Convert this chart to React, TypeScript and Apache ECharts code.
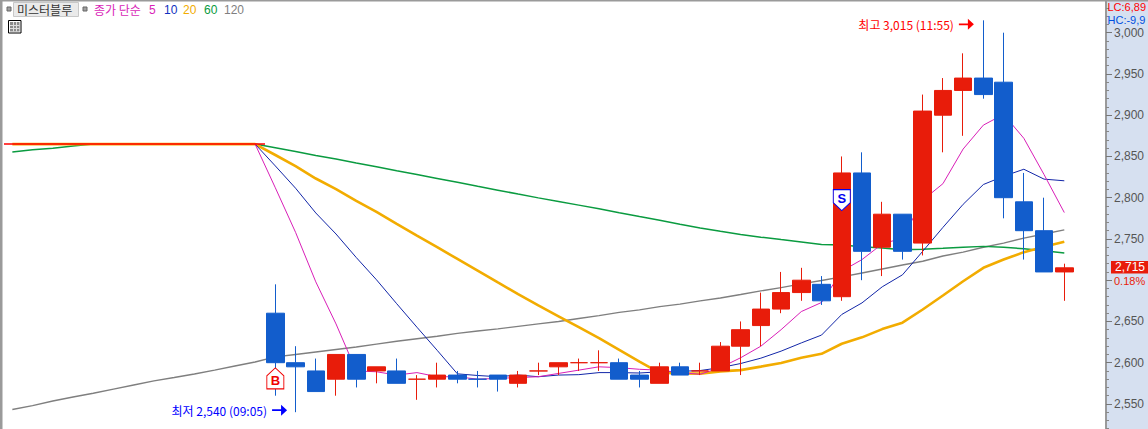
import React, { useEffect, useRef } from "react";
import * as echarts from "echarts";

// leading empty slots before the session's first candle
const preSlots = 14;
const trailingSlots = 2;

const opens = [2660,2600,2590,2580,2610,2590,2590,2580,2580,2585,2580,2585,2575,2590,2595,2600,2600,2600,2585,2575,2595,2590,2590,2620,2645,2665,2685,2695,2680,2830,2740,2780,2745,2900,2930,2945,2940,2795,2760,2710];
const closes = [2600,2595,2565,2610,2580,2595,2575,2580,2585,2580,2580,2580,2585,2590,2600,2600,2600,2580,2580,2595,2585,2590,2620,2640,2665,2685,2700,2675,2830,2735,2780,2735,2905,2930,2945,2925,2800,2760,2710,2715];
const lows = [2560,2540,2565,2560,2570,2575,2575,2555,2570,2575,2570,2565,2570,2585,2585,2590,2590,2580,2570,2575,2585,2585,2590,2585,2620,2660,2675,2670,2675,2700,2705,2725,2730,2855,2875,2920,2775,2725,2710,2675];
const highs = [2695,2620,2605,2610,2610,2595,2605,2585,2600,2590,2590,2585,2590,2600,2600,2605,2615,2605,2590,2600,2600,2600,2625,2650,2685,2710,2715,2705,2850,2855,2795,2780,2925,2945,2975,3015,3000,2830,2800,2720];

const ma5 = [2812,2758,2698,2647,2590,2589,2585,2588,2583,2583,2580,2581,2582,2583,2587,2591,2595,2594,2592,2591,2588,2586,2594,2606,2620,2640,2662,2673,2711,2725,2744,2751,2797,2817,2859,2888,2901,2872,2828,2782];
const ma10 = [2838.5,2811.5,2781.5,2756,2727.5,2700.5,2671.5,2643,2615,2586.5,2584.5,2583,2585,2583,2585,2585.5,2588,2588,2587.5,2589,2589.5,2590.5,2594,2599,2605.5,2614,2624,2633.5,2658.5,2672.5,2692,2706.5,2735,2764,2792,2816,2826,2834.5,2822.5,2820.5];
const ma20 = [2851.75,2838.25,2823.25,2810.5,2796.25,2782.75,2768.25,2754,2740,2725.75,2711.5,2697.25,2683.25,2669.5,2656.25,2643,2629.75,2615.5,2601.25,2587.75,2587,2586.75,2589.5,2591,2595.25,2599.75,2606,2610.75,2623,2630.75,2640.75,2648.5,2664.5,2681.5,2698.75,2715,2725,2734,2740.5,2746.5];
const ma60 = [2860.6,2856.1,2851.1,2846.8,2842.1,2837.6,2832.75,2828,2823.3,2818.6,2813.8,2809.1,2804.4,2799.8,2795.4,2791,2786.6,2781.8,2777.1,2772.6,2767.9,2763.3,2759.25,2755.5,2752.2,2749.2,2746.4,2743.25,2742.7,2740.5,2739.1,2736.9,2737.6,2738.7,2740,2741,2739.9,2738.2,2735.6,2733.1];
const ma120 = [2607,2610,2613,2616,2619,2622.5,2626,2629,2632,2635.5,2638.5,2641,2644,2647,2650,2653.6,2657,2661,2664,2668,2671,2675,2678.5,2682.6,2687,2691,2695.5,2699.6,2704,2708.7,2713.6,2718.4,2723,2729.3,2734,2740,2745,2751,2756,2761];

// values of the averages in the empty slots before the first candle
const prevClose = 2865;
const preMa20 = [null,2865,2865,2865,2865,2865,2865,2865,2865,2865,2865,2865,2865,2865];
const preMa60 = [null,2855.4,2858,2860,2862.6,2865,2865,2865,2865,2865,2865,2865,2865,2865];
const preMa120 = [null,2543.3,2548,2553.6,2558.4,2563,2568,2573,2578,2582,2586.3,2591,2596,2600.8];
const preShort = [null,null,null,null,null,null,null,null,null,null,null,null,null,2865];

const legendLabels = ["종가 단순", "5", "10", "20", "60", "120"];
const titleLabel = "미스터블루";
const lowLabel = "최저 2,540 (09:05)";
const highLabel = "최고 3,015 (11:55)";
const lastPriceLabel = "2,715";
const lastRateLabel = "0.18%";
const lcLabel = "LC:6,89";
const hcLabel = "HC:-9,9";
const hiddenAxisLabels = [2500, 2700, 3050];

const RED = "#E81C0A";
const BLUE = "#125DCC";
const FONT = '"Noto Sans CJK KR", "Noto Sans", sans-serif';
const LATIN = '"Liberation Sans", sans-serif';
const C5 = "#D91FB8";
const C20 = "#F2AC00";
const C10 = "#1226A8";
const C60 = "#0A9B40";
const C120 = "#7F7F7F";

const ARROW = "path://M0 4.6H9V0L15 5.5L9 11V6.4H0Z";
const BUY = "path://M8.5 0L17 8V21H0V8Z";
const SELL = "path://M0 0H17V13L8.5 21L0 13Z";

function txt(x: number, y: number, text: string, fill: string, size = 12, family = FONT) {
  return {
    type: "text", x, y, z: 100,
    style: { text, fill, font: `normal ${size}px ${family}`, textVerticalAlign: "middle", textAlign: "left" },
  };
}

function App() {
  const ref = useRef<HTMLDivElement>(null);
  useEffect(() => {
    const chart = echarts.init(ref.current!, null, { renderer: "svg" });
    const total = preSlots + closes.length + trailingSlots;
    const categories = Array.from({ length: total }, (_, i) => String(i));
    const candles = closes.map((c, i) => {
      const color = c >= opens[i] && !(c === opens[i] && i === 10) ? RED : BLUE;
      return {
        value: [opens[i], c, lows[i], highs[i]],
        itemStyle: { color, color0: color, borderColor: color, borderColor0: color, borderColorDoji: color },
      };
    });
    const line = (name: string, pre: any[], vals: number[], color: string, width: number, extra: any = {}) => ({
      name, type: "line", data: [...pre, ...vals], showSymbol: false, symbol: "none", smooth: false,
      lineStyle: { color, width }, z: 2, silent: true, ...extra,
    });
    const option: any = {
      animation: false,
      backgroundColor: "#fff",
      grid: { left: -18, top: -8.55, width: 56 * 20.23, height: 453.75, containLabel: false, outerBoundsMode: "none" },
      xAxis: { type: "category", data: categories, show: false, boundaryGap: true },
      yAxis: {
        type: "value", position: "right", offset: -8.88, min: 2500, max: 3050, interval: 50, scale: true,
        axisLine: { show: true, onZero: false, lineStyle: { color: "#9A9A9A", width: 2 } },
        axisTick: { show: true, length: 6, lineStyle: { color: "#777" } },
        minorTick: { show: true, splitNumber: 5, length: 3, lineStyle: { color: "#888" } },
        splitLine: { show: false },
        axisLabel: {
          margin: 8, color: "#555", fontSize: 12, fontFamily: LATIN,
          formatter: (v: number) => (hiddenAxisLabels.includes(v) ? "" : v.toLocaleString("en-US")),
        },
      },
      series: [
        line("120", preMa120, ma120, C120, 1.4),
        line("60", preMa60, ma60, C60, 1.5),
        line("20", preMa20, ma20, C20, 2.6, {
          markLine: {
            silent: true, symbol: "none", label: { show: false },
            lineStyle: { color: "#FF0000", width: 1.6, type: "solid" },
            data: [[{ x: 4, yAxis: prevClose }, { x: 265, yAxis: prevClose }]],
          },
        }),
        line("10", preShort, ma10, C10, 1),
        line("5", preShort, ma5, C5, 1),
        {
          name: "candle", type: "candlestick", z: 3, silent: true, barWidth: 18,
          data: [...Array(preSlots).fill("-"), ...candles],
          itemStyle: { borderWidth: 1 },
          markPoint: {
            silent: true, animation: false,
            data: [
              {
                coord: [14, 2581], symbol: BUY, symbolSize: [17, 21],
                itemStyle: { color: "#fff", borderColor: "#F00000", borderWidth: 1 },
                label: { show: true, position: "inside", formatter: "B", color: "#F00000", fontWeight: "bold", fontSize: 13, fontFamily: LATIN, offset: [0, 2] },
              },
              {
                coord: [42, 2797], symbol: SELL, symbolSize: [17, 21],
                itemStyle: { color: "#fff", borderColor: "#0000F0", borderWidth: 1 },
                label: { show: true, position: "inside", formatter: "S", color: "#0000F0", fontWeight: "bold", fontSize: 13, fontFamily: LATIN, offset: [0, -2] },
              },
              {
                coord: [15, 2540], symbol: ARROW, symbolSize: [15, 11], symbolOffset: [-16, -2],
                itemStyle: { color: "#0000FF" },
                label: { show: true, position: "left", distance: 5, formatter: lowLabel, color: "#0000FF", fontSize: 12, fontFamily: FONT },
              },
              {
                coord: [49, 3015], symbol: ARROW, symbolSize: [15, 11], symbolOffset: [-17, 4],
                itemStyle: { color: "#FF0000" },
                label: { show: true, position: "left", distance: 5, formatter: highLabel, color: "#FF0000", fontSize: 12, fontFamily: FONT },
              },
            ],
          },
        },
      ],
      graphic: [
        { type: "rect", z: -10, shape: { x: 1106, y: 0, width: 42, height: 429 }, style: { fill: "#D6E0F0" } },
        { type: "rect", z: 90, shape: { x: 0, y: 0, width: 1148, height: 1.5 }, style: { fill: "#9A9A9A" } },
        { type: "rect", z: 90, shape: { x: 0, y: 0, width: 2.5, height: 429 }, style: { fill: "#9A9A9A" } },
        // legend
        { type: "rect", z: 95, shape: { x: 7, y: 7, width: 4, height: 4 }, style: { fill: "#A0A0A0", stroke: "#666", lineWidth: 1 } },
        { type: "rect", z: 95, shape: { x: 13.5, y: 2.5, width: 65, height: 14 }, style: { fill: "#EAEAEA", stroke: "#C8C8C8", lineWidth: 1 } },
        { type: "rect", z: 95, shape: { x: 83, y: 7, width: 4, height: 4 }, style: { fill: "#A0A0A0", stroke: "#666", lineWidth: 1 } },
        txt(17, 9.5, titleLabel, "#333"),
        txt(94, 9.5, legendLabels[0], C5),
        txt(149, 9.5, legendLabels[1], C5, 12, LATIN),
        txt(164, 9.5, legendLabels[2], "#1030C0", 12, LATIN),
        txt(183, 9.5, legendLabels[3], C20, 12, LATIN),
        txt(204, 9.5, legendLabels[4], C60, 12, LATIN),
        txt(224, 9.5, legendLabels[5], C120, 12, LATIN),
        // table icon
        { type: "rect", z: 95, shape: { x: 8.5, y: 20.5, width: 12.5, height: 12.5 }, style: { fill: "#fff", stroke: "#000", lineWidth: 1 } },
        { type: "rect", z: 96, shape: { x: 10, y: 22, width: 9.5, height: 9.5 }, style: { fill: "#8A8A8A" } },
        { type: "line", z: 97, shape: { x1: 10, y1: 25.5, x2: 19.5, y2: 25.5 }, style: { stroke: "#DDD", lineWidth: 1 } },
        { type: "line", z: 97, shape: { x1: 10, y1: 28.5, x2: 19.5, y2: 28.5 }, style: { stroke: "#DDD", lineWidth: 1 } },
        { type: "line", z: 97, shape: { x1: 13.5, y1: 22, x2: 13.5, y2: 31.5 }, style: { stroke: "#DDD", lineWidth: 1 } },
        { type: "line", z: 97, shape: { x1: 16.5, y1: 22, x2: 16.5, y2: 31.5 }, style: { stroke: "#DDD", lineWidth: 1 } },
        // right panel texts
        txt(1107.5, 7, lcLabel, "#FF0000", 11, LATIN),
        txt(1107.5, 19.5, hcLabel, "#0050E0", 11, LATIN),
        { type: "rect", z: 98, shape: { x: 1111, y: 261, width: 37, height: 12.5 }, style: { fill: RED } },
        txt(1115, 267, lastPriceLabel, "#fff", 12, LATIN),
        txt(1114, 280.5, lastRateLabel, RED, 11, LATIN),
      ],
    };
    chart.setOption(option);
    return () => chart.dispose();
  }, []);
  return <div ref={ref} style={{ position: "absolute", left: 0, top: 0, width: 1148, height: 429 }} />;
}

export default App;
